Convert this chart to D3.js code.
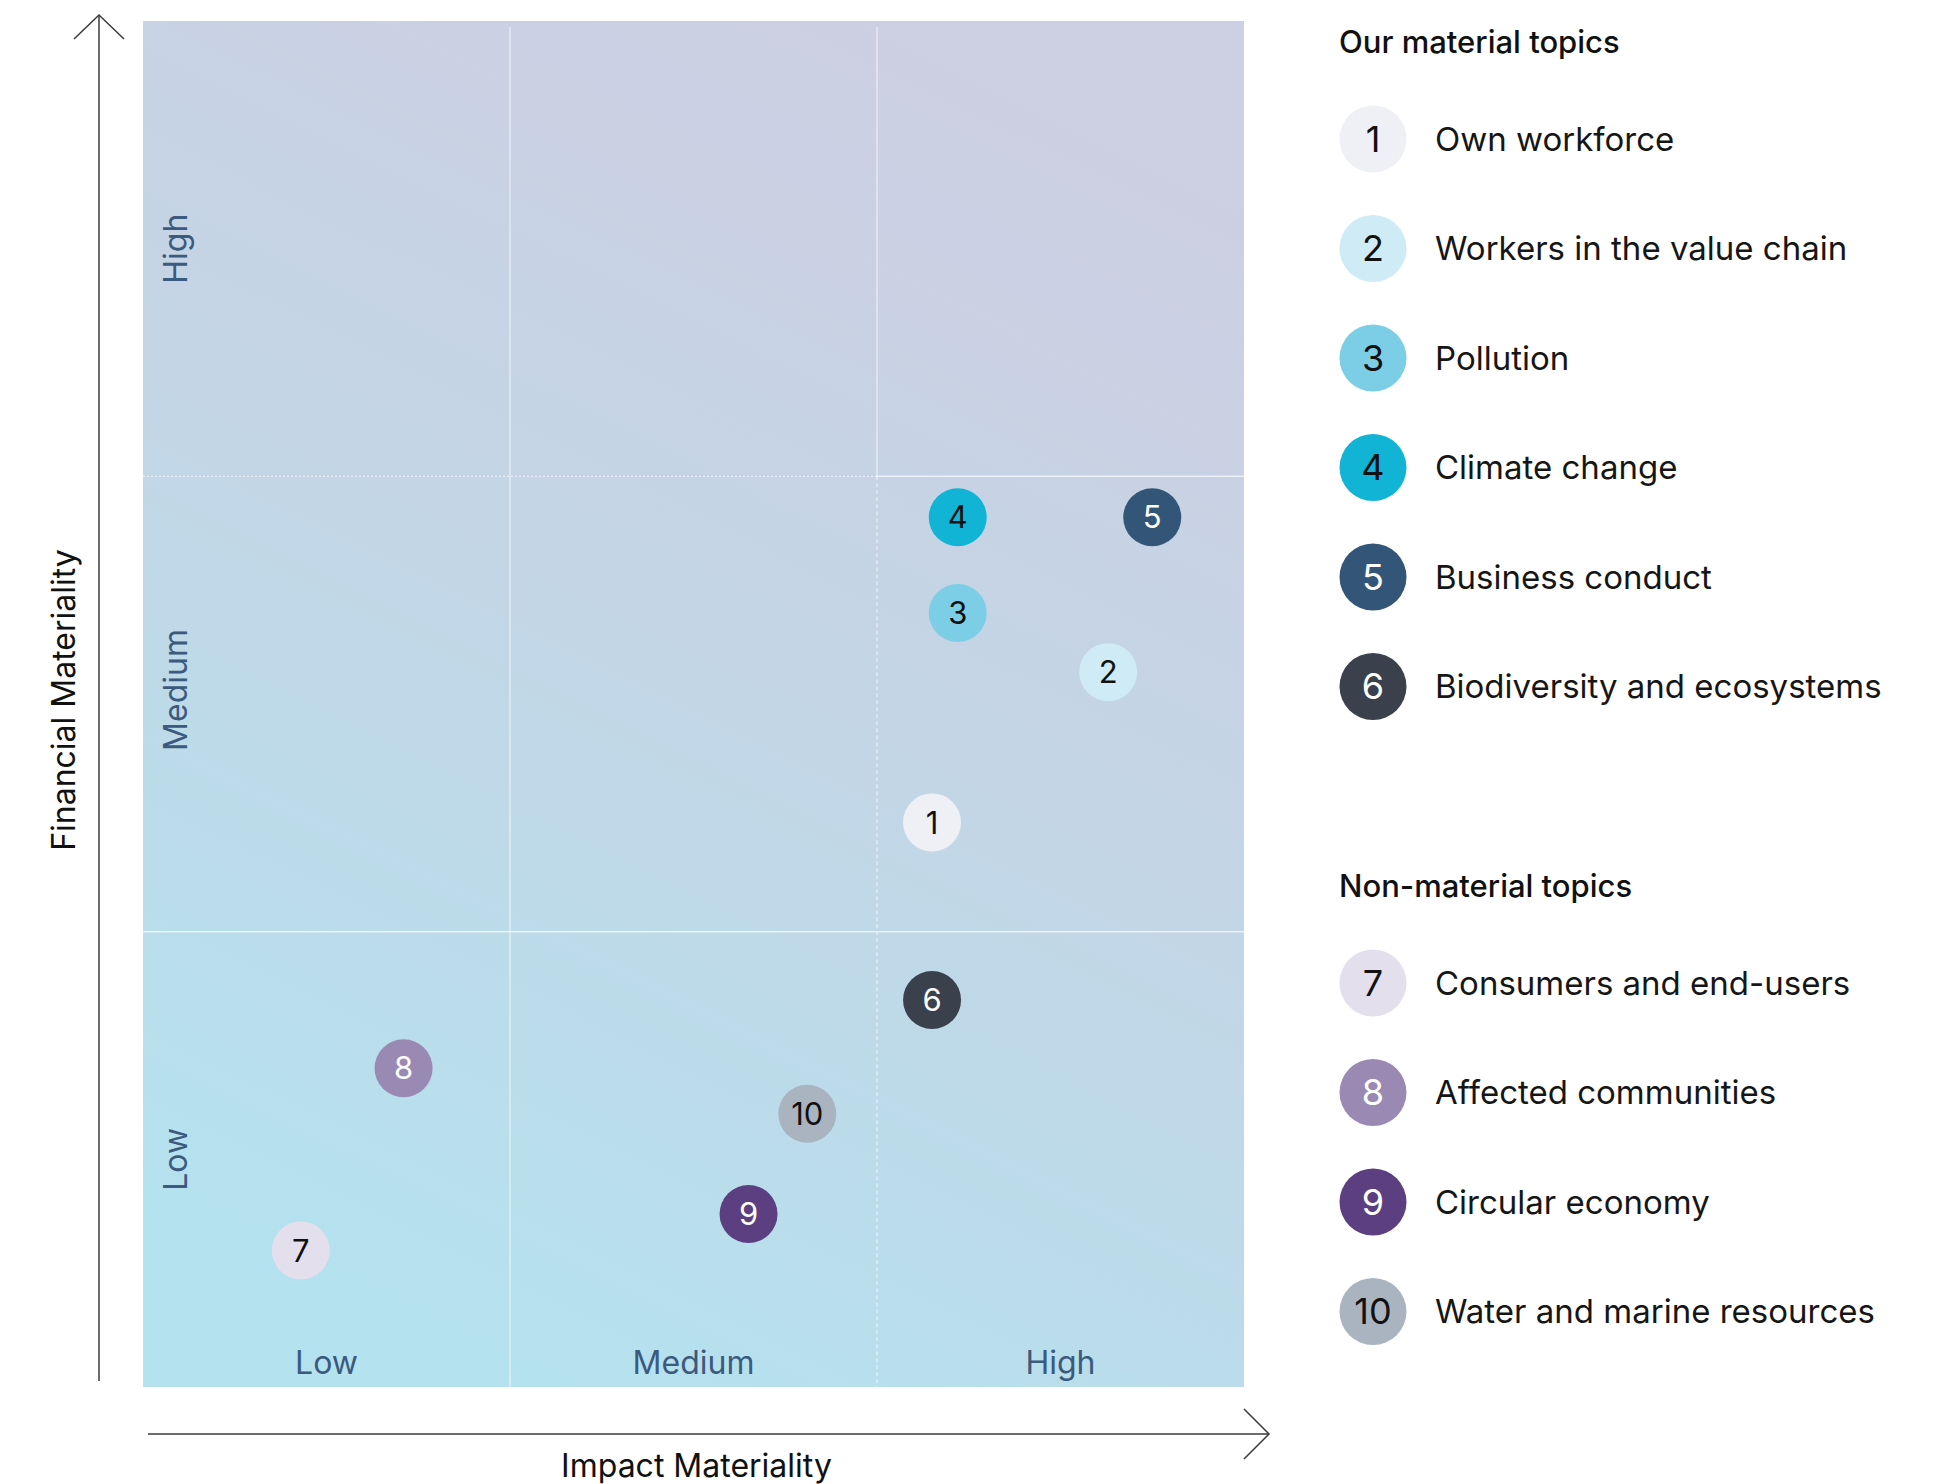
<!DOCTYPE html>
<html>
<head>
<meta charset="utf-8">
<script src="https://cdn.jsdelivr.net/npm/d3@7"></script>
<style>
  html, body { margin: 0; padding: 0; background: #ffffff; }
  svg { display: block; font-family: Inter, "Noto Sans", sans-serif; }
</style>
</head>
<body>
<svg id="chart" width="1948" height="1484"></svg>
<script>
// Double materiality matrix: impact (x) vs financial (y), scored 0–3 (Low / Medium / High bands)
const levelLabels = ["Low", "Medium", "High"];

const topicIds = [1, 2, 3, 4, 5, 6, 7, 8, 9, 10];
const topicNames = [
  "Own workforce",
  "Workers in the value chain",
  "Pollution",
  "Climate change",
  "Business conduct",
  "Biodiversity and ecosystems",
  "Consumers and end-users",
  "Affected communities",
  "Circular economy",
  "Water and marine resources"
];
const topicGroups = [
  "material", "material", "material", "material", "material", "material",
  "non-material", "non-material", "non-material", "non-material"
];
const impactScores    = [2.15, 2.63, 2.22, 2.22, 2.75, 2.15, 0.43, 0.71, 1.65, 1.81];
const financialScores = [1.24, 1.57, 1.70, 1.91, 1.91, 0.85, 0.30, 0.70, 0.38, 0.60];

const groupTitles = ["Our material topics", "Non-material topics"];
const groupKeys = ["material", "non-material"];

const topicColors = [
  "#eff0f5", "#cfebf5", "#7bcee6", "#12b4d6", "#335577",
  "#3a404c", "#e3dfec", "#9a89b3", "#5b3f80", "#aab4c1"
];
const numberColors = [
  "#111111", "#111111", "#111111", "#111111", "#ffffff",
  "#ffffff", "#111111", "#ffffff", "#ffffff", "#111111"
];

const topics = topicIds.map((id, i) => ({
  id, name: topicNames[i], group: topicGroups[i],
  impact: impactScores[i], financial: financialScores[i],
  color: topicColors[i], textColor: numberColors[i]
}));

const svg = d3.select("#chart");

// ---- plot frame ----
const plot = { left: 143, right: 1244, top: 21, bottom: 1387 };
const x = d3.scaleLinear().domain([0, 3]).range([plot.left, plot.right]);
const y = d3.scaleLinear().domain([0, 3]).range([plot.bottom, plot.top]);
const bandMid = i => i + 0.5;

const defs = svg.append("defs");
const grad = defs.append("linearGradient")
  .attr("id", "bg-grad")
  .attr("x1", 0.3).attr("y1", 1).attr("x2", 0.7).attr("y2", 0);
grad.append("stop").attr("offset", 0).attr("stop-color", "#b4e2ef");
grad.append("stop").attr("offset", 0.5).attr("stop-color", "#c2d6e6");
grad.append("stop").attr("offset", 1).attr("stop-color", "#cdcfe2");

svg.append("rect")
  .attr("x", x(0)).attr("y", y(3))
  .attr("width", x(3) - x(0)).attr("height", y(0) - y(3))
  .attr("fill", "url(#bg-grad)");

// ---- grid ----
const grid = svg.append("g").attr("stroke", "#ffffff").attr("stroke-opacity", 0.65).attr("fill", "none");
// vertical: Low | Medium
grid.append("line")
  .attr("x1", x(1)).attr("x2", x(1)).attr("y1", y(3) + 6).attr("y2", y(0) + 15)
  .attr("stroke-width", 1.2);
// vertical: Medium | High (solid in the top band, dashed below)
grid.append("line")
  .attr("x1", x(2)).attr("x2", x(2)).attr("y1", y(3) + 6).attr("y2", y(2))
  .attr("stroke-width", 1.2);
grid.append("line")
  .attr("x1", x(2)).attr("x2", x(2)).attr("y1", y(2)).attr("y2", y(0))
  .attr("stroke-width", 1.2).attr("stroke-dasharray", "4,3");
// horizontal: Medium | High (dotted left, solid right)
grid.append("line")
  .attr("x1", x(0)).attr("x2", x(2)).attr("y1", y(2)).attr("y2", y(2))
  .attr("stroke-width", 1.2).attr("stroke-dasharray", "2,2");
grid.append("line")
  .attr("x1", x(2)).attr("x2", x(3)).attr("y1", y(2)).attr("y2", y(2))
  .attr("stroke-width", 1.5);
// horizontal: Low | Medium
grid.append("line")
  .attr("x1", x(0) - 13).attr("x2", x(3)).attr("y1", y(1)).attr("y2", y(1))
  .attr("stroke-width", 1.5);

// ---- band labels ----
const bandColor = "#3b5a7e";
svg.append("g").selectAll("text")
  .data(levelLabels)
  .join("text")
  .attr("x", (d, i) => x(bandMid(i)))
  .attr("y", 1374)
  .attr("text-anchor", "middle")
  .attr("font-size", 32)
  .attr("fill", bandColor)
  .text(d => d);

// the middle label sits a little above its band centre
const yLabelShift = [0, -14, 0];
svg.append("g").selectAll("text")
  .data(levelLabels)
  .join("text")
  .attr("transform", (d, i) => `translate(187,${y(bandMid(i)) + yLabelShift[i]}) rotate(-90)`)
  .attr("text-anchor", "middle")
  .attr("font-size", 32)
  .attr("fill", bandColor)
  .text(d => d);

// ---- axes with open arrowheads ----
const axisStroke = "#3a3a3a";
const axes = svg.append("g").attr("stroke", axisStroke).attr("fill", "none").attr("stroke-width", 1.5);
const yAxisX = 99, xAxisY = 1434;
axes.append("line").attr("x1", yAxisX).attr("x2", yAxisX).attr("y1", 15).attr("y2", 1381);
axes.append("path").attr("d", `M${yAxisX - 25},39 L${yAxisX},15 L${yAxisX + 25},39`);
axes.append("line").attr("x1", 148).attr("x2", 1269).attr("y1", xAxisY).attr("y2", xAxisY);
axes.append("path").attr("d", `M1244,${xAxisY - 25} L1269,${xAxisY} L1244,${xAxisY + 25}`);

svg.append("text")
  .attr("x", x(1.5) + 3).attr("y", 1477)
  .attr("text-anchor", "middle")
  .attr("font-size", 32)
  .attr("fill", "#111")
  .text("Impact Materiality");

svg.append("text")
  .attr("transform", `translate(75,${y(1.5) - 4}) rotate(-90)`)
  .attr("text-anchor", "middle")
  .attr("font-size", 32)
  .attr("fill", "#111")
  .text("Financial Materiality");

// ---- topic markers ----
const markers = svg.append("g").selectAll("g")
  .data(topics)
  .join("g")
  .attr("transform", d => `translate(${x(d.impact)},${y(d.financial)})`);
markers.append("circle").attr("r", 29).attr("fill", d => d.color);
markers.append("text")
  .attr("text-anchor", "middle")
  .attr("dy", "0.36em")
  .attr("font-size", 31)
  .attr("fill", d => d.textColor)
  .text(d => d.id);

// ---- legend ----
const legendX = 1339, swatchX = 1373, labelX = 1435;
const headingY = [53, 897];
const firstRowY = [139, 983];
const rowStep = 109.5;

groupKeys.forEach((key, gi) => {
  const g = svg.append("g");
  g.append("text")
    .attr("x", legendX).attr("y", headingY[gi])
    .attr("font-size", 31)
    .attr("font-weight", 500)
    .attr("fill", "#111")
    .text(groupTitles[gi]);

  const rows = g.selectAll("g.row")
    .data(topics.filter(t => t.group === key))
    .join("g")
    .attr("class", "row")
    .attr("transform", (d, i) => `translate(0,${firstRowY[gi] + i * rowStep})`);
  rows.append("circle").attr("cx", swatchX).attr("r", 33.5).attr("fill", d => d.color);
  rows.append("text")
    .attr("x", swatchX).attr("dy", "0.36em")
    .attr("text-anchor", "middle")
    .attr("font-size", 36)
    .attr("fill", d => d.textColor)
    .text(d => d.id);
  rows.append("text")
    .attr("x", labelX).attr("dy", "0.36em")
    .attr("font-size", 33)
    .attr("fill", "#161616")
    .text(d => d.name);
});
</script>
</body>
</html>
